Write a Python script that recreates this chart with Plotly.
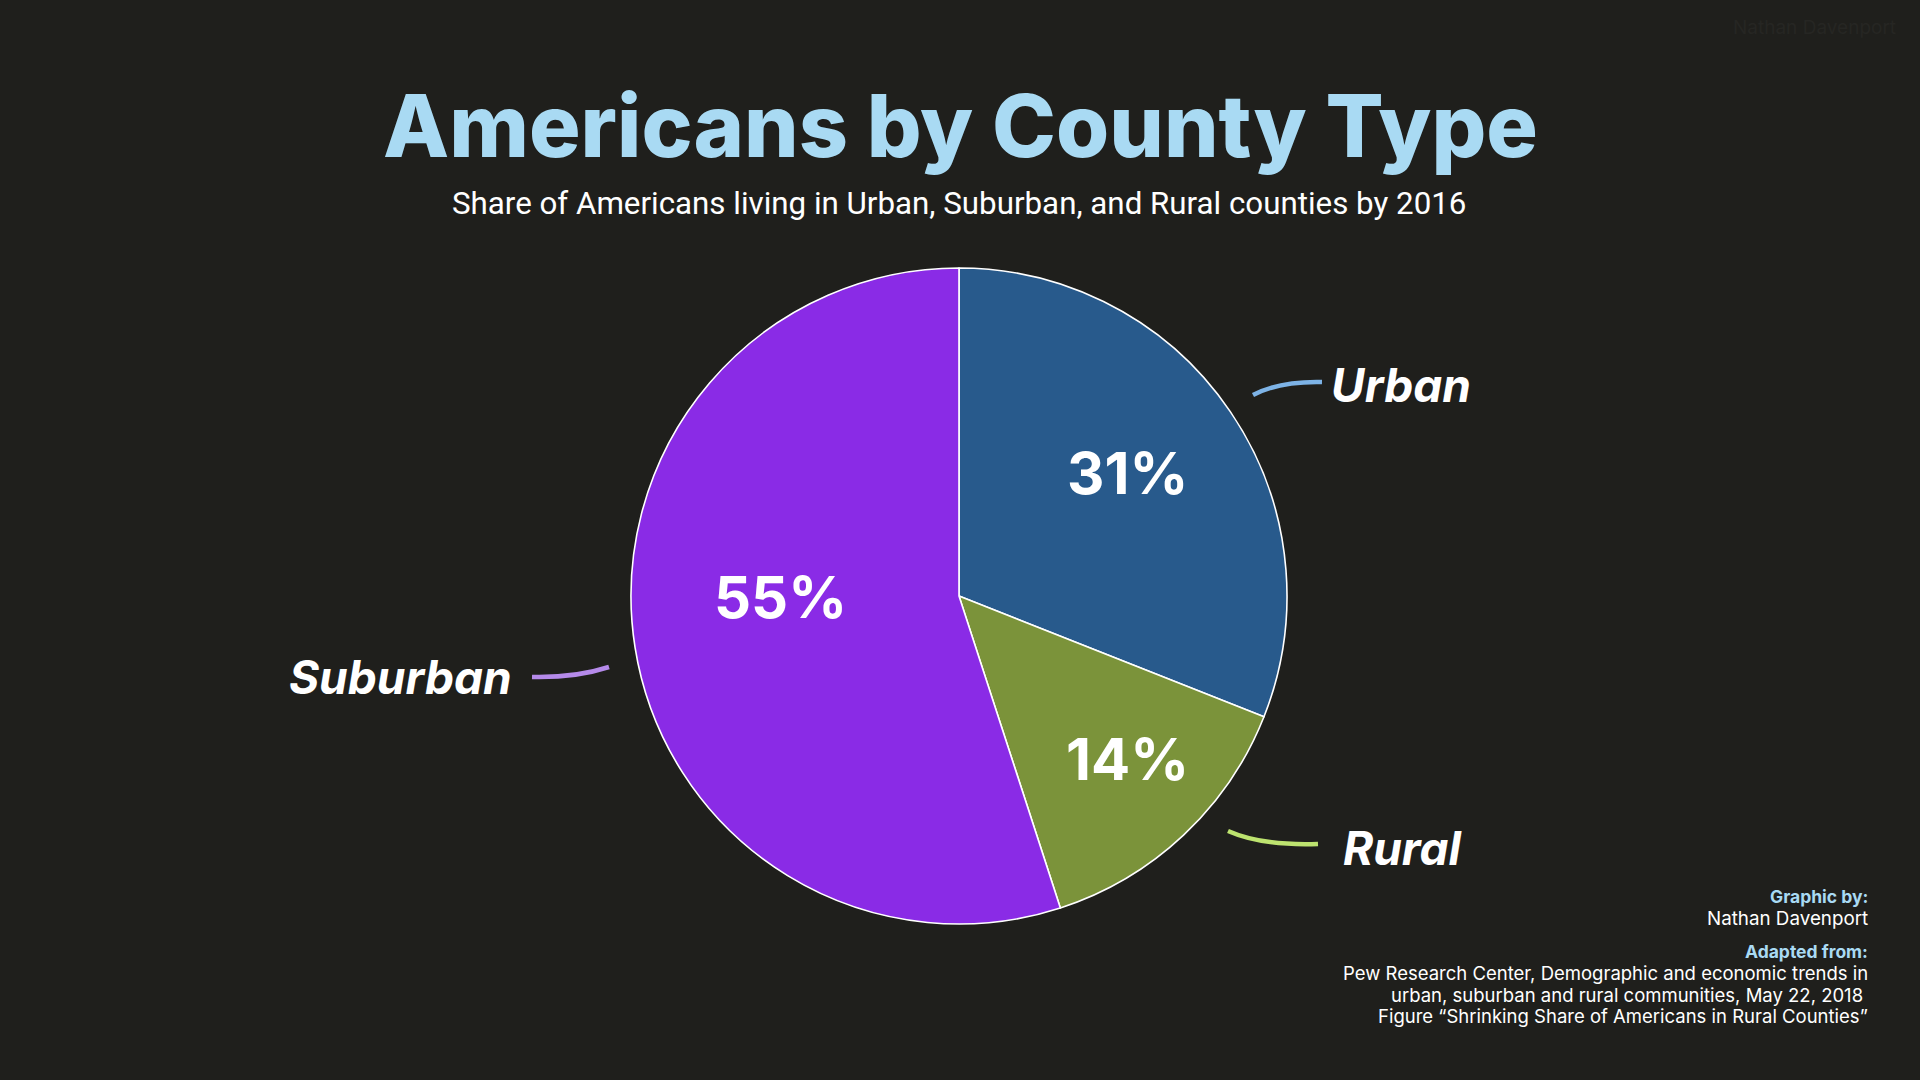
import plotly.graph_objects as go

# ---- data ----
categories = ["Urban", "Rural", "Suburban"]
shares = [31, 14, 55]
slice_colors = ["#285a8c", "#7b933a", "#8a2be6"]
line_colors = ["#7db3e6", "#bde36f", "#b58aea"]

title = "Americans by County Type"
subtitle = "Share of Americans living in Urban, Suburban, and Rural counties by 2016"
credit_head1 = "Graphic by:"
credit_body1 = "Nathan Davenport"
credit_head2 = "Adapted from:"
credit_body2 = [
    "Pew Research Center, Demographic and economic trends in",
    "urban, suburban and rural communities, May 22, 2018 ",
    "Figure \u201cShrinking Share of Americans in Rural Counties\u201d",
]

W, H = 1920, 1080
BG = "#1f1f1c"

fig = go.Figure()
fig.add_trace(go.Pie(
    labels=categories,
    values=shares,
    sort=False,
    direction="clockwise",
    rotation=0,
    marker=dict(colors=slice_colors, line=dict(color="#ffffff", width=1.6)),
    textinfo="none",
    hoverinfo="label+percent",
    showlegend=False,
    domain=dict(x=[(959 - 328) / W, (959 + 328) / W], y=[1 - 924 / H, 1 - 268 / H]),
))

def px(x):
    return x / W

def py(y):
    return 1 - y / H

annotations = []
annotations.append(dict(text=title, x=px(960), y=py(126), xref="paper", yref="paper",
                        showarrow=False, xanchor="center", yanchor="middle",
                        font=dict(family="Inter", size=86, color="#a9daf3", weight=800)))
annotations.append(dict(text=subtitle, x=px(959), y=py(203), xref="paper", yref="paper",
                        showarrow=False, xanchor="center", yanchor="middle",
                        font=dict(family="Roboto", size=31.3, color="#ffffff")))

# percentage labels inside slices
pct_pos = {"Urban": (1127, 473), "Rural": (1127, 759), "Suburban": (780, 597)}
for cat, v in zip(categories, shares):
    x, y = pct_pos[cat]
    annotations.append(dict(text=f"{v}%", x=px(x), y=py(y), xref="paper", yref="paper",
                            showarrow=False, xanchor="center", yanchor="middle",
                            font=dict(family="Inter", size=58, color="#ffffff", weight=700)))

# outer labels
label_pos = {"Urban": (1401, 385), "Rural": (1403, 848), "Suburban": (400, 677)}
for cat in categories:
    x, y = label_pos[cat]
    annotations.append(dict(text="<i>" + cat + "</i>", x=px(x), y=py(y), xref="paper", yref="paper",
                            showarrow=False, xanchor="center", yanchor="middle",
                            font=dict(family="Inter", size=46, color="#ffffff", weight=700)))

# credits
right = px(1870)
annotations.append(dict(text=credit_head1, x=right, y=py(896), xref="paper", yref="paper",
                        showarrow=False, xanchor="right", yanchor="middle",
                        font=dict(family="Inter", size=17.5, color="#a9daf3", weight=700)))
annotations.append(dict(text=credit_body1, x=right, y=py(918), xref="paper", yref="paper",
                        showarrow=False, xanchor="right", yanchor="middle",
                        font=dict(family="Inter", size=18.8, color="#ffffff")))
annotations.append(dict(text=credit_head2, x=right, y=py(951), xref="paper", yref="paper",
                        showarrow=False, xanchor="right", yanchor="middle",
                        font=dict(family="Inter", size=17.5, color="#a9daf3", weight=700)))
for i, line in enumerate(credit_body2):
    annotations.append(dict(text=line, x=right, y=py(973 + 21.5 * i), xref="paper", yref="paper",
                            showarrow=False, xanchor="right", yanchor="middle",
                            font=dict(family="Inter", size=18.5, color="#ffffff")))

# faint watermark top-right
annotations.append(dict(text="Nathan Davenport", x=px(1898), y=py(28), xref="paper", yref="paper",
                        showarrow=False, xanchor="right", yanchor="middle",
                        font=dict(family="Inter", size=19, color="#262623")))

# curved connector strokes (paths in pixel space converted to paper)
def path(p0, c, p1):
    return "M {} {} Q {} {} {} {}".format(px(p0[0]), py(p0[1]), px(c[0]), py(c[1]), px(p1[0]), py(p1[1]))

curves = {
    "Urban": ((1253, 395), (1280, 381), (1322, 382)),
    "Rural": ((1228, 831), (1262, 846), (1318, 844)),
    "Suburban": ((532, 677), (575, 678), (609, 667)),
}
shapes = []
for cat, col in zip(categories, line_colors):
    p0, c, p1 = curves[cat]
    shapes.append(dict(type="path", path=path(p0, c, p1), xref="paper", yref="paper",
                       line=dict(color=col, width=4.5)))

fig.update_layout(
    width=W, height=H,
    margin=dict(l=0, r=0, t=0, b=0),
    paper_bgcolor=BG, plot_bgcolor=BG,
    annotations=annotations,
    shapes=shapes,
)

fig.write_html("out.html", config={"displayModeBar": False})
